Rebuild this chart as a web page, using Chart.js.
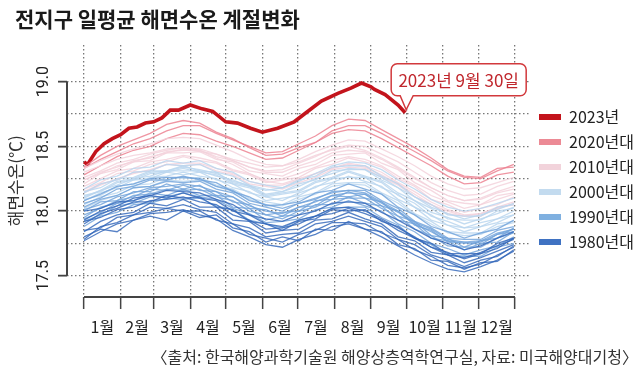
<!DOCTYPE html>
<html><head><meta charset="utf-8">
<script src="https://cdn.jsdelivr.net/npm/chart.js@4.4.0/dist/chart.umd.min.js"></script>
<style>html,body{margin:0;padding:0;background:#fff;}#wrap{width:640px;height:374px;}</style>
</head><body><div id="wrap"><canvas id="c" width="640" height="374"></canvas></div>
<script>
const TITLE = '전지구 일평균 해면수온 계절변화';
const SOURCE = '〈출처: 한국해양과학기술원 해양상층역학연구실, 자료: 미국해양대기청〉';
const Y_TITLE = '해면수온(℃)';
const ANNOTATION_TEXT = '2023년 9월 30일';
const MONTH_LABELS = ['1월','2월','3월','4월','5월','6월','7월','8월','9월','10월','11월','12월'];
const MONTH_START = [0,31,59,90,120,151,181,212,243,273,304,334,365];
const MONTH_MID = [15.5,45,74.5,105,135.5,166,196.5,227.5,258,288.5,319,349.5];
const Y_TICKS = [17.5,17.75,18.0,18.25,18.5,18.75,19.0];
const LEGEND_LABELS = ['2023년','2020년대','2010년대','2000년대','1990년대','1980년대'];

// day of year for each sample of the yearly series
const DAYS = [0,14,28,42,56,70,84,98,112,126,140,154,168,182,196,210,224,238,252,266,280,294,308,322,336,350,364];

const SST_1981 = [17.77,17.84,17.90,17.93,17.98,17.99,18.01,17.97,17.94,17.85,17.80,17.74,17.72,17.78,17.82,17.88,17.90,17.86,17.80,17.73,17.66,17.60,17.55,17.53,17.57,17.62,17.69];
const SST_1982 = [17.85,17.87,17.95,17.97,18.03,18.02,18.05,18.01,17.99,17.90,17.87,17.80,17.82,17.83,17.90,17.92,17.96,17.92,17.88,17.78,17.74,17.66,17.62,17.57,17.62,17.65,17.73];
const SST_1983 = [18.00,18.02,18.07,18.08,18.12,18.10,18.14,18.10,18.08,18.00,17.97,17.90,17.88,17.93,17.96,18.02,18.03,18.00,17.94,17.87,17.80,17.72,17.66,17.64,17.68,17.73,17.78];
const SST_1984 = [17.80,17.86,17.84,17.93,17.96,17.93,18.00,17.95,17.97,17.87,17.84,17.76,17.80,17.77,17.86,17.85,17.92,17.86,17.84,17.74,17.71,17.62,17.61,17.55,17.60,17.61,17.70];
const SST_1985 = [17.78,17.88,17.91,17.97,17.99,18.02,18.00,18.00,17.93,17.90,17.82,17.79,17.76,17.82,17.85,17.91,17.91,17.90,17.83,17.78,17.70,17.65,17.58,17.56,17.59,17.66,17.72];
const SST_1986 = [17.84,17.92,17.97,17.99,18.06,18.04,18.09,18.03,18.03,17.93,17.92,17.83,17.85,17.86,17.93,17.94,17.99,17.94,17.90,17.80,17.77,17.68,17.66,17.60,17.64,17.69,17.74];
const SST_1987 = [17.93,18.00,18.04,18.10,18.12,18.16,18.15,18.14,18.09,18.05,17.97,17.94,17.92,17.97,18.00,18.06,18.07,18.06,17.99,17.93,17.86,17.79,17.75,17.70,17.73,17.79,17.84];
const SST_1988 = [17.92,17.95,18.01,18.03,18.08,18.09,18.11,18.07,18.05,17.97,17.93,17.86,17.87,17.90,17.96,17.98,18.02,17.98,17.93,17.85,17.79,17.72,17.68,17.63,17.67,17.71,17.79];
const SST_1989 = [17.90,17.98,18.02,18.07,18.07,18.12,18.10,18.11,18.03,18.01,17.92,17.90,17.85,17.92,17.94,18.01,18.00,18.01,17.92,17.88,17.79,17.75,17.67,17.67,17.67,17.75,17.79];

const SST_1990 = [17.92,17.97,18.04,18.06,18.11,18.11,18.14,18.11,18.09,18.02,17.98,17.91,17.92,17.94,18.01,18.03,18.08,18.04,18.00,17.90,17.84,17.75,17.71,17.66,17.70,17.73,17.80];
const SST_1991 = [18.00,18.07,18.08,18.15,18.15,18.21,18.17,18.20,18.12,18.11,18.02,18.01,17.96,18.03,18.04,18.12,18.11,18.13,18.04,18.00,17.89,17.85,17.76,17.76,17.74,17.82,17.84];
const SST_1992 = [18.03,18.09,18.12,18.18,18.19,18.23,18.22,18.23,18.17,18.14,18.06,18.03,18.00,18.06,18.09,18.15,18.16,18.16,18.08,18.02,17.92,17.87,17.79,17.78,17.78,17.85,17.88];
const SST_1993 = [17.94,17.99,18.06,18.08,18.14,18.12,18.17,18.12,18.12,18.03,18.02,17.93,17.96,17.97,18.05,18.05,18.11,18.06,18.04,17.93,17.90,17.79,17.77,17.70,17.75,17.76,17.84];
const SST_1994 = [17.95,18.03,18.06,18.12,18.13,18.17,18.16,18.17,18.11,18.08,18.00,17.97,17.94,18.00,18.03,18.09,18.10,18.10,18.02,17.96,17.86,17.81,17.73,17.72,17.72,17.79,17.83];
const SST_1995 = [18.06,18.10,18.17,18.19,18.24,18.24,18.27,18.24,18.22,18.15,18.11,18.04,18.05,18.07,18.14,18.16,18.21,18.17,18.13,18.03,17.97,17.88,17.84,17.79,17.83,17.86,17.93];
const SST_1996 = [18.01,18.05,18.11,18.14,18.18,18.19,18.21,18.19,18.15,18.11,18.04,18.00,17.98,18.03,18.07,18.12,18.14,18.13,18.06,17.99,17.90,17.84,17.77,17.75,17.76,17.82,17.86];
const SST_1997 = [17.97,18.02,18.08,18.11,18.17,18.16,18.20,18.16,18.15,18.07,18.05,17.97,17.99,18.00,18.08,18.09,18.15,18.10,18.07,17.96,17.92,17.81,17.79,17.72,17.77,17.79,17.87];
const SST_1998 = [18.08,18.13,18.19,18.21,18.25,18.26,18.26,18.25,18.19,18.16,18.08,18.05,18.02,18.06,18.10,18.14,18.16,18.14,18.07,18.00,17.91,17.86,17.78,17.76,17.77,17.83,17.86];
const SST_1999 = [17.88,17.96,17.99,18.05,18.06,18.10,18.09,18.10,18.04,18.01,17.93,17.90,17.87,17.93,17.96,18.02,18.03,18.03,17.95,17.89,17.79,17.74,17.66,17.65,17.65,17.72,17.75];

const SST_2000 = [18.05,18.11,18.14,18.20,18.21,18.26,18.25,18.26,18.20,18.17,18.10,18.07,18.05,18.11,18.14,18.21,18.22,18.22,18.14,18.08,17.98,17.92,17.84,17.83,17.83,17.90,17.92];
const SST_2001 = [18.08,18.14,18.18,18.24,18.25,18.30,18.28,18.30,18.24,18.21,18.14,18.11,18.08,18.14,18.18,18.25,18.26,18.26,18.18,18.13,18.03,17.97,17.89,17.87,17.88,17.94,17.97];
const SST_2002 = [18.14,18.21,18.24,18.30,18.31,18.36,18.35,18.36,18.30,18.27,18.20,18.17,18.15,18.21,18.24,18.31,18.32,18.32,18.24,18.18,18.08,18.02,17.94,17.93,17.93,18.00,18.02];
const SST_2003 = [18.15,18.18,18.25,18.26,18.31,18.31,18.35,18.31,18.30,18.22,18.19,18.12,18.14,18.16,18.23,18.26,18.31,18.27,18.23,18.14,18.08,17.99,17.95,17.90,17.94,17.98,18.03];
const SST_2004 = [18.12,18.15,18.22,18.24,18.29,18.30,18.33,18.30,18.28,18.21,18.18,18.11,18.13,18.15,18.22,18.25,18.30,18.26,18.22,18.12,18.06,17.96,17.92,17.87,17.91,17.94,18.00];
const SST_2005 = [18.17,18.24,18.27,18.33,18.34,18.39,18.37,18.39,18.33,18.30,18.23,18.20,18.18,18.24,18.27,18.34,18.35,18.35,18.27,18.21,18.11,18.05,17.97,17.96,17.96,18.03,18.05];
const SST_2006 = [18.11,18.16,18.23,18.25,18.30,18.31,18.34,18.32,18.29,18.23,18.20,18.13,18.15,18.19,18.25,18.29,18.33,18.32,18.26,18.18,18.11,18.03,17.98,17.94,17.97,18.01,18.06];
const SST_2007 = [18.09,18.12,18.19,18.21,18.26,18.27,18.30,18.27,18.25,18.18,18.15,18.08,18.10,18.12,18.19,18.22,18.27,18.23,18.19,18.09,18.03,17.93,17.89,17.84,17.88,17.91,17.97];
const SST_2008 = [18.02,18.08,18.12,18.18,18.19,18.24,18.23,18.24,18.19,18.15,18.09,18.05,18.04,18.09,18.13,18.19,18.21,18.20,18.13,18.06,17.97,17.90,17.83,17.81,17.82,17.88,17.91];
const SST_2009 = [18.10,18.16,18.20,18.25,18.27,18.31,18.31,18.31,18.27,18.24,18.19,18.16,18.18,18.23,18.29,18.35,18.38,18.37,18.32,18.24,18.17,18.09,18.03,18.00,18.02,18.06,18.10];

const SST_2010 = [18.30,18.35,18.40,18.43,18.45,18.48,18.49,18.47,18.41,18.36,18.29,18.23,18.21,18.25,18.29,18.33,18.36,18.34,18.28,18.21,18.13,18.05,18.00,17.96,17.98,18.02,18.06];
const SST_2011 = [18.15,18.21,18.24,18.30,18.31,18.36,18.35,18.36,18.31,18.28,18.21,18.19,18.17,18.22,18.26,18.32,18.34,18.33,18.26,18.20,18.11,18.05,17.98,17.96,17.96,18.02,18.05];
const SST_2012 = [18.17,18.22,18.29,18.31,18.36,18.38,18.42,18.39,18.37,18.31,18.28,18.22,18.24,18.26,18.33,18.36,18.41,18.38,18.34,18.25,18.19,18.09,18.05,17.99,18.02,18.05,18.11];
const SST_2013 = [18.19,18.25,18.31,18.33,18.38,18.40,18.43,18.41,18.38,18.32,18.29,18.24,18.25,18.29,18.34,18.39,18.42,18.40,18.35,18.27,18.20,18.12,18.07,18.02,18.05,18.09,18.13];
const SST_2014 = [18.21,18.29,18.32,18.38,18.39,18.45,18.45,18.46,18.40,18.38,18.31,18.29,18.27,18.33,18.36,18.43,18.44,18.45,18.37,18.32,18.22,18.16,18.08,18.06,18.05,18.12,18.14];
const SST_2015 = [18.24,18.29,18.35,18.38,18.42,18.45,18.48,18.46,18.44,18.40,18.37,18.34,18.35,18.40,18.46,18.51,18.55,18.54,18.48,18.42,18.35,18.27,18.21,18.17,18.18,18.22,18.26];
const SST_2016 = [18.33,18.39,18.44,18.48,18.52,18.56,18.57,18.56,18.51,18.46,18.40,18.36,18.35,18.38,18.43,18.47,18.50,18.47,18.41,18.34,18.26,18.18,18.12,18.08,18.09,18.14,18.17];
const SST_2017 = [18.26,18.31,18.37,18.40,18.44,18.47,18.49,18.48,18.44,18.39,18.34,18.30,18.30,18.35,18.39,18.45,18.47,18.46,18.40,18.33,18.25,18.18,18.12,18.08,18.10,18.15,18.19];
const SST_2018 = [18.14,18.20,18.25,18.29,18.32,18.36,18.37,18.37,18.33,18.29,18.23,18.20,18.20,18.24,18.29,18.33,18.37,18.35,18.30,18.22,18.15,18.07,18.01,17.97,17.98,18.03,18.07];
const SST_2019 = [18.24,18.30,18.34,18.39,18.41,18.46,18.47,18.47,18.42,18.39,18.34,18.31,18.32,18.37,18.42,18.48,18.51,18.50,18.44,18.38,18.30,18.22,18.16,18.12,18.13,18.19,18.23];

const SST_2020 = [18.34,18.43,18.50,18.55,18.60,18.67,18.70,18.68,18.61,18.56,18.49,18.43,18.44,18.49,18.53,18.60,18.63,18.62,18.56,18.49,18.42,18.35,18.27,18.21,18.22,18.28,18.30];
const SST_2021 = [18.28,18.35,18.42,18.47,18.50,18.56,18.60,18.59,18.54,18.50,18.45,18.40,18.41,18.47,18.53,18.62,18.66,18.66,18.60,18.53,18.46,18.39,18.31,18.26,18.25,18.31,18.36];
const SST_2022 = [18.33,18.40,18.46,18.52,18.56,18.62,18.66,18.66,18.60,18.55,18.50,18.45,18.46,18.52,18.58,18.66,18.71,18.70,18.63,18.56,18.49,18.41,18.32,18.27,18.26,18.33,18.34];

const DAYS_2023 = [0,3,10,17,24,31,38,45,52,59,66,73,80,90,100,109,120,130,141,151,164,178,188,201,215,226,235,243,246,255,266,272];
const SST_2023 = [18.38,18.36,18.46,18.52,18.56,18.59,18.64,18.65,18.68,18.69,18.72,18.78,18.78,18.82,18.79,18.77,18.69,18.68,18.64,18.61,18.64,18.69,18.76,18.85,18.91,18.95,18.99,18.96,18.94,18.90,18.82,18.76];

const COLOR_1980S = 'rgba(50,102,186,0.82)';
const COLOR_1990S = 'rgba(112,162,218,0.82)';
const COLOR_2000S = 'rgba(186,214,238,0.85)';
const COLOR_2010S = 'rgba(243,210,220,0.85)';
const COLOR_2020S = 'rgba(236,130,146,0.85)';
const COLOR_2023 = '#c3141c';
const LEGEND_COLORS = ['#c3141c','#ec8a95','#f2d3db','#c3dbef','#7fb0e0','#3f72c2'];

const GROUPS = [
  {color: COLOR_1980S, series: [SST_1981, SST_1982, SST_1983, SST_1984, SST_1985, SST_1986, SST_1987, SST_1988, SST_1989]},
  {color: COLOR_1990S, series: [SST_1990, SST_1991, SST_1992, SST_1993, SST_1994, SST_1995, SST_1996, SST_1997, SST_1998, SST_1999]},
  {color: COLOR_2000S, series: [SST_2000, SST_2001, SST_2002, SST_2003, SST_2004, SST_2005, SST_2006, SST_2007, SST_2008, SST_2009]},
  {color: COLOR_2010S, series: [SST_2010, SST_2011, SST_2012, SST_2013, SST_2014, SST_2015, SST_2016, SST_2017, SST_2018, SST_2019]},
  {color: COLOR_2020S, series: [SST_2020, SST_2021, SST_2022]}
];

const datasets = [];
GROUPS.forEach(g => g.series.forEach(s => {
  datasets.push({data: DAYS.map((d, i) => ({x: d, y: s[i]})), borderColor: g.color,
    borderWidth: 1.3, pointRadius: 0, tension: 0, fill: false});
}));
datasets.push({data: DAYS_2023.map((d, i) => ({x: d, y: SST_2023[i]})), borderColor: COLOR_2023,
  borderWidth: 3.6, pointRadius: 0, tension: 0, fill: false});
const IDX_2023 = datasets.length - 1;

const FONT_KR = '"Noto Sans CJK KR", "Noto Sans", sans-serif';
const isMajor = v => Math.abs(v * 2 - Math.round(v * 2)) < 1e-6;
const CLEAR = 'rgba(0,0,0,0)';

const decor = {
  id: 'decor',
  afterDatasetsDraw(chart) {
    const {ctx, chartArea, scales: {x, y}} = chart;
    ctx.save();
    ctx.strokeStyle = '#444';
    ctx.lineWidth = 2;
    ctx.beginPath();
    ctx.moveTo(chartArea.left, y.getPixelForValue(Y_TICKS[Y_TICKS.length - 1]));
    ctx.lineTo(chartArea.left, y.getPixelForValue(Y_TICKS[0]));
    ctx.moveTo(x.getPixelForValue(MONTH_START[0]), chartArea.bottom);
    ctx.lineTo(x.getPixelForValue(MONTH_START[MONTH_START.length - 1]), chartArea.bottom);
    ctx.stroke();
    ctx.restore();
  },
  afterDraw(chart) {
    const {ctx, scales: {y}} = chart;
    ctx.save();
    const cy = (y.getPixelForValue(Y_TICKS[0]) + y.getPixelForValue(Y_TICKS[Y_TICKS.length - 1])) / 2 + 2;
    ctx.translate(y.left + 1, cy);
    ctx.rotate(-Math.PI / 2);
    ctx.font = '17px ' + FONT_KR;
    ctx.fillStyle = '#333';
    ctx.textAlign = 'center';
    ctx.textBaseline = 'middle';
    ctx.fillText(Y_TITLE, 0, 0);
    ctx.restore();
    const meta = chart.getDatasetMeta(IDX_2023);
    const pt = meta.data[meta.data.length - 1];
    const px = pt.x, py = pt.y;
    const L = px - 14, R = px + 121, T = py - 49, B = py - 17, r = 6;
    ctx.save();
    ctx.beginPath();
    ctx.moveTo(L + r, T);
    ctx.lineTo(R - r, T);
    ctx.arcTo(R, T, R, T + r, r);
    ctx.lineTo(R, B - r);
    ctx.arcTo(R, B, R - r, B, r);
    ctx.lineTo(px + 8, B);
    ctx.lineTo(px + 1, py - 3);
    ctx.lineTo(px - 5, B);
    ctx.lineTo(L + r, B);
    ctx.arcTo(L, B, L, B - r, r);
    ctx.lineTo(L, T + r);
    ctx.arcTo(L, T, L + r, T, r);
    ctx.closePath();
    ctx.fillStyle = '#fff';
    ctx.fill();
    ctx.strokeStyle = '#d2393c';
    ctx.lineWidth = 1.5;
    ctx.stroke();
    ctx.font = '17px ' + FONT_KR;
    ctx.fillStyle = '#c0272d';
    ctx.textAlign = 'center';
    ctx.textBaseline = 'middle';
    ctx.fillText(ANNOTATION_TEXT, (L + R) / 2, (T + B) / 2 + 1);
    ctx.restore();
  }
};

new Chart(document.getElementById('c'), {
  type: 'line',
  data: {datasets},
  options: {
    responsive: false,
    animation: false,
    devicePixelRatio: 1,
    layout: {padding: {left: 15, right: 2, top: 0, bottom: 0}},
    plugins: {
      title: {display: true, text: TITLE, align: 'start', color: '#1a1a1a',
        font: {family: FONT_KR, size: 21, weight: 'bold', lineHeight: 1.2}, padding: {top: 6, bottom: 13.8}},
      subtitle: {display: true, text: SOURCE, position: 'bottom', align: 'end', color: '#333',
        font: {family: FONT_KR, size: 16, lineHeight: 1.2}, padding: {top: 4.3, bottom: 7.5}},
      legend: {
        position: 'right', align: 'start', fullSize: false, maxWidth: 108,
        title: {display: true, text: '', font: {size: 10, lineHeight: 1.2}, padding: {top: 43, bottom: 0}},
        labels: {
          boxWidth: 22, boxHeight: 6, padding: 9, color: '#222',
          font: {family: FONT_KR, size: 16},
          generateLabels: () => LEGEND_LABELS.map((t, i) => ({
            text: t, fillStyle: LEGEND_COLORS[i], strokeStyle: LEGEND_COLORS[i], lineWidth: 0,
            hidden: false, fontColor: '#222'
          }))
        }
      },
      tooltip: {enabled: false}
    },
    scales: {
      x: {
        type: 'linear', min: -14.4, max: 377.7,
        afterBuildTicks: s => { s.ticks = MONTH_START.concat(MONTH_MID).sort((a, b) => a - b).map(v => ({value: v})); },
        afterFit: s => { s.height = 46; },
        border: {display: false, dash: [1.5, 2.5]},
        grid: {
          color: c => (c.tick && MONTH_START.includes(c.tick.value)) ? '#777' : CLEAR,
          lineWidth: 1.3, tickLength: 12, tickWidth: 1.5,
          tickColor: c => (c.tick && MONTH_START.includes(c.tick.value)) ? '#444' : CLEAR
        },
        ticks: {
          autoSkip: false, maxRotation: 0, minRotation: 0, padding: 8, color: '#222',
          font: {family: FONT_KR, size: 16},
          callback: v => { const i = MONTH_MID.indexOf(v); return i >= 0 ? MONTH_LABELS[i] : ''; }
        }
      },
      y: {
        type: 'linear', min: 17.335, max: 19.284,
        afterBuildTicks: s => { s.ticks = Y_TICKS.map(v => ({value: v})); },
        afterFit: s => { s.width = 52; },
        border: {display: false, dash: [1.5, 2.5]},
        grid: {
          color: '#777', lineWidth: 1.3, tickLength: 9, tickWidth: 1.8,
          tickColor: c => (c.tick && isMajor(c.tick.value)) ? '#444' : CLEAR
        },
        ticks: {
          autoSkip: false, minRotation: 90, maxRotation: 90, crossAlign: 'center', padding: -2,
          color: '#222', font: {family: 'Roboto, sans-serif', size: 16},
          callback: v => isMajor(v) ? v.toFixed(1) : ''
        }
      }
    }
  },
  plugins: [decor]
});
</script></body></html>
